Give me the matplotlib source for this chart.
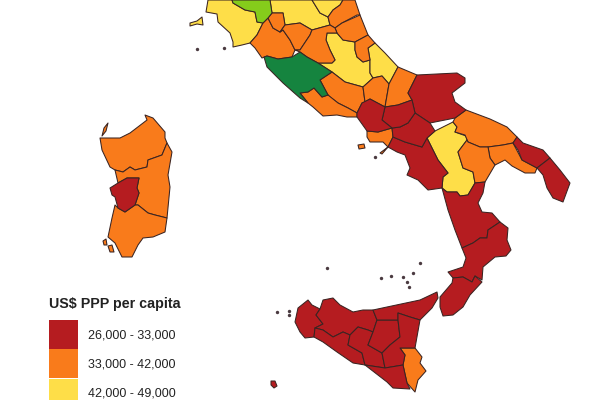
import matplotlib.pyplot as plt
from matplotlib.patches import Rectangle

plt.rcParams['font.family'] = ['Liberation Sans', 'DejaVu Sans']

# outlines are read off the picture, in picture pixels
# yellow areas
tuscany_west = [(208,0),(206,12),(217,14),(218,22),(230,33),(233,42),(233,47),(242,45),(250,43),(257,35),(263,23),(257,22),(255,12),(245,10),(233,3),(232,0)]
tuscany_east = [(270,0),(272,13),(283,13),(285,25),(300,23),(312,30),(330,25),(328,17),(320,13),(312,0)]
romagna = [(312,0),(320,13),(328,17),(333,10),(340,5),(343,0)]
liguria_tip = [(190,23),(197,21),(202,17),(203,25),(197,24),(190,26)]
perugia = [(327,33),(337,33),(343,40),(355,42),(355,50),(357,57),(363,62),(370,60),(370,73),(373,78),(363,87),(345,82),(332,72),(318,63),(332,63),(335,60),(330,50),(326,40)]
teramo = [(368,48),(375,43),(385,53),(398,67),(389,84),(382,76),(373,78),(370,73),(370,60)]
potenza = [(427,138),(435,131),(453,122),(457,127),(455,132),(466,136),(467,140),(458,152),(463,168),(473,172),(475,183),(468,195),(460,196),(457,192),(447,192),(442,188),(443,177),(448,173),(438,160)]
yellow_areas = [tuscany_west, tuscany_east, romagna, liguria_tip, perugia, teramo, potenza]

# light green and dark green
bologna = [(232,0),(233,3),(245,10),(255,12),(257,22),(263,23),(268,18),(272,13),(270,0)]
rome = [(264,57),(267,56),(278,59),(292,57),(300,52),(307,57),(318,63),(332,72),(320,80),(328,95),(322,97),(314,88),(308,92),(300,93),(308,103),(300,98),(283,83),(267,67)]

# orange areas
rimini = [(343,0),(340,5),(333,10),(328,17),(330,25),(335,28),(342,23),(357,15),(360,15),(355,0)]
ancona = [(335,28),(342,23),(360,15),(368,35),(355,42),(343,40),(337,33)]
macerata = [(355,42),(368,35),(375,43),(368,48),(370,60),(363,62),(357,57),(355,50)]
siena = [(250,43),(257,35),(263,23),(268,18),(273,28),(280,32),(283,30),(290,40),(295,50),(292,57),(278,59),(267,56),(262,58),(255,48)]
pistoia = [(268,18),(272,13),(283,13),(285,25),(280,32),(273,28)]
arezzo = [(285,25),(300,23),(312,30),(310,35),(300,50),(295,50),(290,40),(283,30),(280,32)]
terni = [(312,30),(330,25),(335,28),(337,33),(327,33),(326,40),(330,50),(335,60),(332,63),(318,63),(307,57),(300,52),(295,50),(300,50),(310,35)]
rieti = [(332,72),(345,82),(363,87),(365,102),(362,103),(357,113),(348,108),(338,103),(330,97),(328,95),(320,80)]
latina = [(300,93),(308,92),(314,88),(322,97),(328,95),(338,103),(348,108),(357,113),(357,117),(347,117),(337,115),(323,116),(313,107),(308,103)]
aquila = [(363,87),(373,78),(382,76),(389,84),(385,107),(370,99),(365,102)]
chieti = [(389,84),(398,67),(417,75),(408,93),(412,100),(398,105),(385,107)]
bari = [(466,110),(490,119),(507,127),(517,137),(513,143),(503,145),(488,147),(480,147),(468,142),(465,135),(455,132),(457,127),(453,122),(455,118)]
taranto = [(488,147),(503,145),(513,143),(522,160),(537,168),(535,173),(525,173),(512,166),(505,160),(495,165),(490,158)]
matera = [(467,140),(468,142),(480,147),(488,147),(490,158),(495,165),(485,182),(475,183),(473,172),(463,168),(458,152)]
naples = [(367,131),(378,132),(392,128),(393,137),(388,147),(382,154),(380,153),(388,147),(383,142),(370,142),(367,137)]
ischia = [(358,145),(364,144),(365,148),(359,149)]
sardinia_north = [(145,115),(153,118),(165,132),(165,138),(167,143),(162,155),(148,160),(147,167),(135,170),(130,167),(123,172),(115,170),(110,167),(102,150),(100,138),(105,138),(120,138),(130,133),(147,120)]
sardinia_east = [(167,143),(172,152),(168,175),(170,187),(167,218),(155,215),(148,213),(138,205),(135,205),(139,193),(137,188),(139,178),(127,178),(118,183),(115,170),(123,172),(130,167),(135,170),(147,167),(148,160),(162,155)]
sardinia_south = [(115,205),(118,208),(125,212),(135,205),(138,205),(148,213),(155,215),(167,218),(165,232),(153,237),(143,238),(138,245),(132,257),(122,257),(115,243),(108,237),(112,218)]
antioco = [(103,241),(106,239),(107,245),(104,245)]
carloforte = [(108,246),(112,245),(114,252),(110,252)]
asinara = [(102,136),(104,128),(108,123),(106,131)]
siracusa = [(400,348),(415,348),(422,357),(420,363),(426,371),(418,380),(415,392),(407,383),(403,365),(405,355)]
orange_areas = [rimini, ancona, macerata, siena, pistoia, arezzo, terni, rieti, latina, aquila, chieti, bari, taranto, matera,
                naples, ischia, sardinia_north, sardinia_east, sardinia_south, antioco, carloforte, asinara, siracusa]

# red areas
foggia = [(417,75),(437,74),(457,73),(465,78),(465,83),(452,93),(455,102),(466,110),(455,118),(430,123),(415,113),(412,100),(408,93)]
brindisi = [(517,137),(523,143),(543,150),(550,158),(537,168),(522,160),(518,150),(513,143)]
lecce = [(550,158),(560,170),(570,183),(563,202),(553,198),(547,188),(543,175),(537,168)]
salerno = [(393,137),(405,142),(422,147),(427,138),(438,160),(448,173),(443,177),(442,188),(428,190),(418,180),(407,175),(410,168),(405,155),(397,152),(388,147)]
avellino = [(415,113),(430,123),(435,131),(427,138),(422,147),(405,142),(393,137),(392,128),(400,127),(408,123)]
benevento = [(385,107),(398,105),(412,100),(415,113),(408,123),(400,127),(392,128),(382,120)]
caserta = [(357,113),(362,103),(370,99),(385,107),(382,120),(392,128),(378,132),(367,131),(357,117)]
cosenza = [(442,188),(447,192),(457,192),(460,196),(468,195),(475,183),(485,182),(483,193),(478,203),(482,212),(492,213),(500,222),(488,230),(487,238),(480,238),(473,243),(462,248),(455,230),(448,210)]
catanzaro = [(462,248),(473,243),(480,238),(487,238),(488,230),(500,222),(508,228),(507,240),(511,250),(506,256),(495,257),(483,267),(482,280),(475,276),(472,282),(463,277),(453,278),(448,272),(463,267),(466,258)]
reggio = [(453,278),(463,277),(472,282),(475,276),(482,282),(470,295),(463,307),(453,315),(443,316),(440,307),(440,297),(452,283)]
oristano = [(110,188),(118,183),(127,178),(139,178),(137,188),(139,193),(135,205),(125,212),(118,208),(115,197),(112,195)]
trapani = [(295,322),(298,308),(308,300),(312,305),(320,309),(316,315),(323,324),(315,328),(314,337),(305,338),(300,332)]
palermo = [(320,309),(323,300),(333,298),(340,305),(353,312),(363,310),(373,310),(377,320),(373,332),(368,330),(358,327),(350,335),(343,332),(333,337),(323,330),(315,328),(323,324),(316,315)]
agrigento = [(314,337),(315,328),(323,330),(333,337),(343,332),(350,335),(348,345),(362,353),(365,365),(353,363),(337,352),(323,342)]
caltanissetta = [(350,335),(358,327),(368,330),(373,332),(368,345),(382,353),(385,368),(365,365),(362,353),(348,345)]
enna = [(377,320),(398,320),(400,337),(390,345),(382,353),(368,345),(373,332)]
messina = [(373,310),(387,307),(420,300),(437,292),(438,298),(432,308),(420,320),(410,317),(398,313),(398,320),(377,320)]
catania = [(398,313),(410,317),(420,320),(415,348),(400,348),(405,355),(403,365),(385,368),(382,353),(390,345),(400,337),(398,320)]
ragusa = [(365,365),(385,368),(403,365),(407,383),(410,389),(393,388),(387,382)]
pantelleria = [(271,381),(275,381),(277,386),(274,388),(271,385)]
red_areas = [foggia, brindisi, lecce, salerno, avellino, benevento, caserta, cosenza, catanzaro, reggio, oristano,
             trapani, palermo, agrigento, caltanissetta, enna, messina, catania, ragusa, pantelleria]

# tiny islands
island_x = [197,224,375,327,381,391,403,407,409,413,420,277,289,289]
island_y = [49,48,157,268,278,276,277,282,287,273,263,312,311,315]

legend_title = 'US$ PPP per capita'
legend_labels = ['26,000 - 33,000', '33,000 - 42,000', '42,000 - 49,000']

red = '#b51c20'
orange = '#f97b1b'
yellow = '#fede48'
dark_green = '#15843f'
light_green = '#85cc1b'
edge = '#3a2422'

fig = plt.figure(figsize=(6, 4), dpi=100)
ax = fig.add_axes([0, 0, 1, 1])

for areas, colour in [(yellow_areas, yellow), (orange_areas, orange), (red_areas, red),
                      ([bologna], light_green), ([rome], dark_green)]:
    for area in areas:
        xs, ys = zip(*area)
        ax.fill(xs, ys, facecolor=colour, edgecolor=edge, linewidth=0.75, joinstyle='round')

ax.scatter(island_x, island_y, s=6, color='#4a3a40', linewidths=0)

ax.text(49, 304, legend_title, fontsize=10.3, fontweight='bold', color='#222222', va='center')
for i, (label, colour) in enumerate(zip(legend_labels, [red, orange, yellow])):
    ax.add_patch(Rectangle((49, 320 + 29.3 * i), 28.5, 28.5, facecolor=colour, edgecolor='none'))
    ax.text(88, 335 + 29.3 * i, label, fontsize=9, color='#222222', va='center')

ax.set_xlim(0, 600)
ax.set_ylim(400, 0)
ax.axis('off')
fig.savefig('out.png', dpi=100)
